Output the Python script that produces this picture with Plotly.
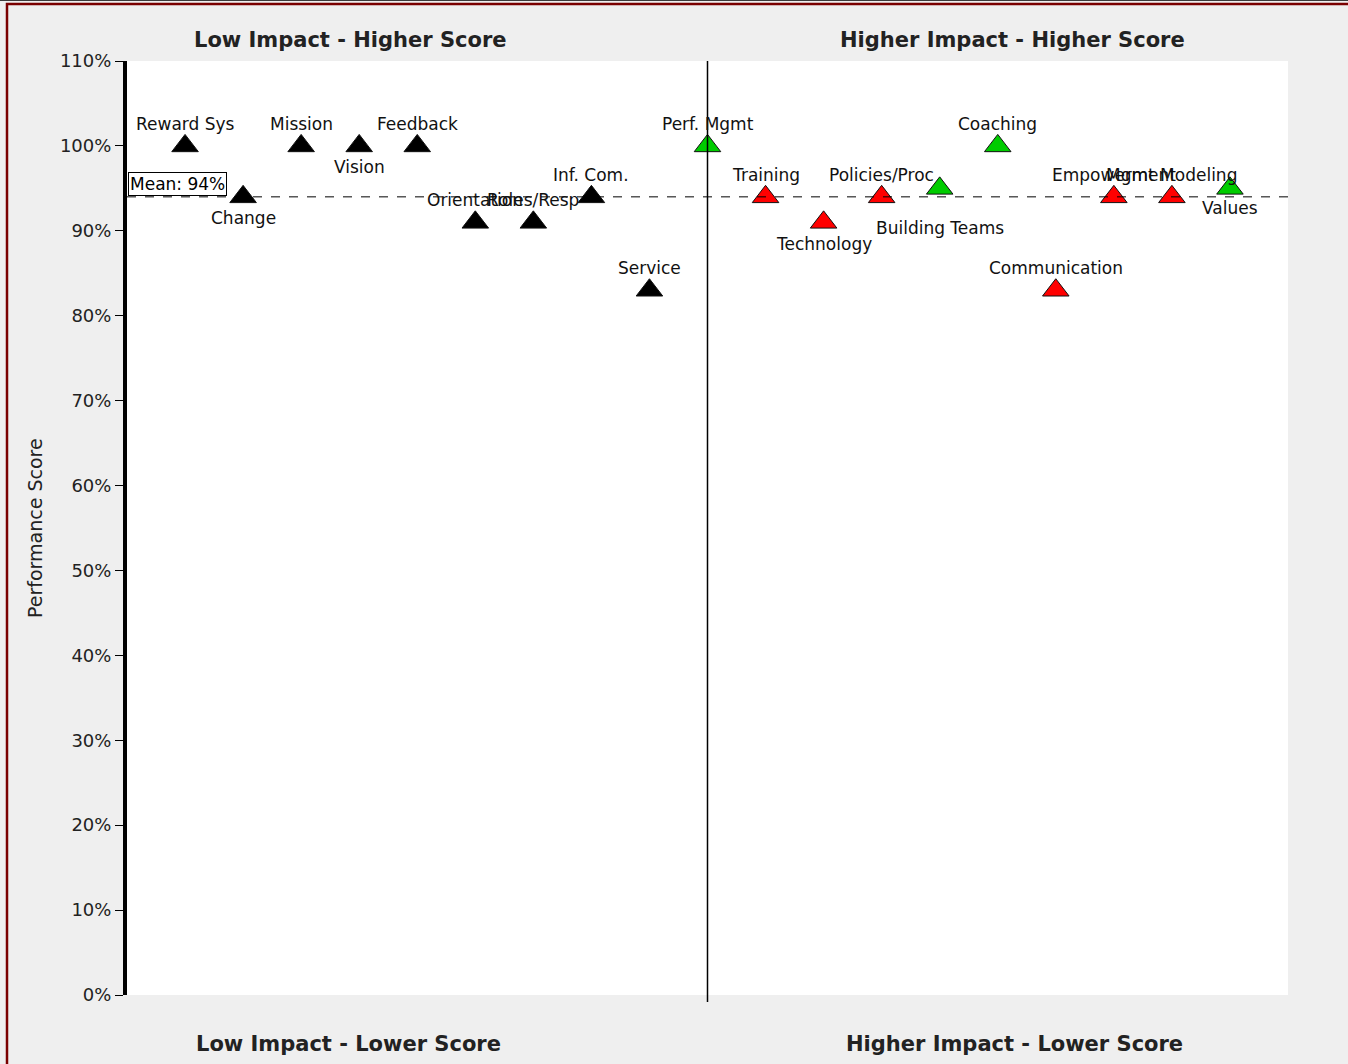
import plotly.graph_objects as go

# ---- data ----
categories = ["Reward Sys", "Change", "Mission", "Vision", "Feedback", "Orientation",
              "Roles/Resp", "Inf. Com.", "Service", "Perf. Mgmt", "Training", "Technology",
              "Policies/Proc", "Building Teams", "Coaching", "Communication",
              "Empowerment", "Mgmt Modeling", "Values"]
scores = [100, 94, 100, 100, 100, 91, 91, 94, 83, 100, 94, 91, 94, 95, 100, 83, 94, 94, 95]
impact = ["Low"] * 9 + ["High"] * 10
quadrant_titles = ["Low Impact - Higher Score", "Higher Impact - Higher Score",
                   "Low Impact - Lower Score", "Higher Impact - Lower Score"]
y_ticks = list(range(0, 111, 10))

# ---- styling ----
# vertical pixel offset of each point label from its marker
label_shift = [22, -21, 22, -21, 22, 22, 22, 22, 22, 22,
               22, -22, 22, -40, 22, 22, 22, 22, -20]
FONT = "DejaVu Sans"

mean_score = sum(scores) / len(scores)
xs = list(range(1, len(categories) + 1))
colors = []
for s, imp in zip(scores, impact):
    if imp == "Low":
        colors.append("#000000")
    elif s > mean_score:
        colors.append("#00cc00")
    else:
        colors.append("#ff0000")

fig = go.Figure()
fig.add_trace(go.Scatter(
    x=xs, y=scores, mode="markers", text=categories,
    marker=dict(symbol="triangle-up", size=23, color=colors,
                line=dict(color="#111111", width=1)),
    hoverinfo="text", showlegend=False, cliponaxis=False,
))

mid_x = xs[impact.index("High")]
shapes = [
    # mean dashed line
    dict(type="line", xref="x", yref="y", x0=0, x1=len(categories) + 1,
         y0=round(mean_score), y1=round(mean_score),
         line=dict(color="#000000", width=1, dash="dash")),
    # quadrant divider
    dict(type="line", xref="x", yref="paper", x0=mid_x, x1=mid_x, y0=-7 / 934, y1=1,
         line=dict(color="#000000", width=1.5)),
    # outer frame
    dict(type="rect", xref="paper", yref="paper", x0=-120 / 1161, x1=1230 / 1161,
         y0=-80 / 934, y1=991 / 934, line=dict(color="#7a0000", width=2.5),
         fillcolor="rgba(0,0,0,0)", layer="below"),
    dict(type="line", xref="paper", yref="paper", x0=-130 / 1161, x1=1230 / 1161,
         y0=995 / 934, y1=995 / 934, line=dict(color="#000000", width=1.5)),
]

annotations = []
for x, y, t, sh in zip(xs, scores, categories, label_shift):
    annotations.append(dict(x=x, y=y, xref="x", yref="y", text=t, showarrow=False,
                            xanchor="center", yanchor="middle", yshift=sh,
                            font=dict(family=FONT, size=17, color="#111111")))
annotations += [
    dict(x=0, y=round(mean_score), xref="x", yref="y", xanchor="left", yanchor="bottom",
         text="Mean: %d%%" % round(mean_score), showarrow=False,
         font=dict(family=FONT, size=17, color="#000000"),
         bgcolor="#ffffff", bordercolor="#000000", borderwidth=1, borderpad=1,
         yshift=1, xshift=1),
    dict(x=-92 / 1161, y=0.5, xref="paper", yref="paper", text="Performance Score",
         textangle=-90, showarrow=False, xanchor="center", yanchor="middle",
         font=dict(family=FONT, size=19, color="#222222")),
]
title_pos = [(350, 40), (1012, 40), (348, 1044), (1014, 1044)]
for t, (px, py) in zip(quadrant_titles, title_pos):
    annotations.append(dict(
        x=(px - 127) / 1161, y=(995 - py) / 934, xref="paper", yref="paper",
        text="<b>%s</b>" % t, showarrow=False, xanchor="center", yanchor="middle",
        font=dict(family=FONT, size=21, color="#222222")))

fig.update_layout(
    width=1348, height=1064, autosize=False,
    margin=dict(l=127, r=60, t=61, b=69),
    paper_bgcolor="#efefef", plot_bgcolor="#ffffff",
    font=dict(family=FONT, size=17, color="#222222"),
    shapes=shapes, annotations=annotations,
    xaxis=dict(range=[0, len(categories) + 1], visible=False, fixedrange=True),
    yaxis=dict(range=[0, 110], tickvals=y_ticks, ticktext=["%d%%" % v for v in y_ticks],
               showgrid=False, zeroline=False, showline=True, linewidth=4,
               linecolor="#000000", ticks="outside", ticklen=8, tickwidth=1,
               tickcolor="#000000", tickfont=dict(family=FONT, size=18, color="#222222"),
               fixedrange=True),
)

fig.write_html("out.html")
